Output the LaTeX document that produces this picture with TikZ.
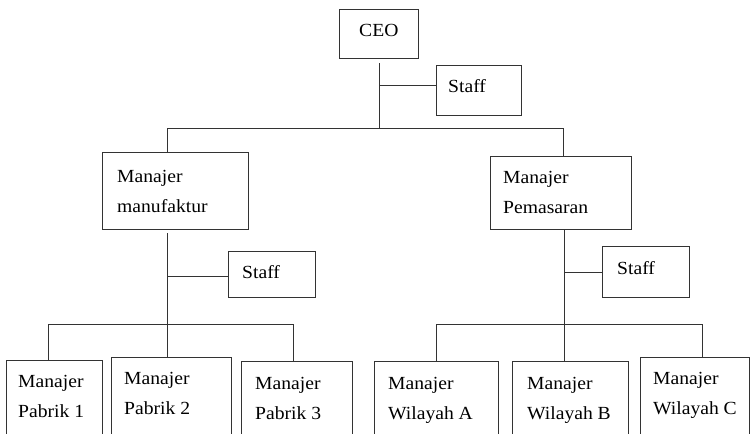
\documentclass[tikz,border=0pt]{standalone}
\usepackage{fontspec}
\setmainfont{Liberation Serif}[FakeStretch=1.06]
\begin{document}
\begin{tikzpicture}[x=1pt,y=-1pt,
  box/.style={draw=black!80,line width=0.9pt,inner sep=0pt,rectangle},
  lbl/.style={anchor=base west,inner sep=0pt,text=black,font=\fontsize{18.5}{30}\selectfont,align=left},
  conn/.style={draw=black!80,line width=0.9pt}]
\useasboundingbox (0,0) rectangle (751,433);
\clip (0,0) rectangle (751,433);
% boxes
\node[box,minimum width=79pt,minimum height=49pt] (ceo) at (379,33.5) {};
\node[box,minimum width=85pt,minimum height=50pt] (st0) at (478.5,90) {};
\node[box,minimum width=146pt,minimum height=77pt] (mm) at (175,190.5) {};
\node[box,minimum width=141pt,minimum height=73pt] (mp) at (560.5,192.5) {};
\node[box,minimum width=87pt,minimum height=46pt] (st1) at (271.5,274) {};
\node[box,minimum width=87pt,minimum height=51pt] (st2) at (645.5,271.5) {};
\node[box,minimum width=96pt,minimum height=100pt] (p1) at (54,410) {};
\node[box,minimum width=120pt,minimum height=103pt] (p2) at (171,408.5) {};
\node[box,minimum width=111pt,minimum height=99pt] (p3) at (296.5,410.5) {};
\node[box,minimum width=124pt,minimum height=99pt] (wa) at (436,410.5) {};
\node[box,minimum width=116pt,minimum height=99pt] (wb) at (570,410.5) {};
\node[box,minimum width=109pt,minimum height=103pt] (wc) at (694.5,408.5) {};
% labels (multi-line: anchor at last baseline)
\node[lbl] (tceo) at (359,37) {CEO};
\node[lbl] (tst0) at (448,93) {Staff};
\node[lbl] (tmm) at (117,212) {Manajer\\manufaktur};
\node[lbl] (tmp) at (503,213) {Manajer\\Pemasaran};
\node[lbl] (tst1) at (242,278) {Staff};
\node[lbl] (tst2) at (617,274) {Staff};
\node[lbl] (tp1) at (18,417) {Manajer\\Pabrik 1};
\node[lbl] (tp2) at (124,414) {Manajer\\Pabrik 2};
\node[lbl] (tp3) at (255,419) {Manajer\\Pabrik 3};
\node[lbl] (twa) at (388,419) {Manajer\\Wilayah A};
\node[lbl] (twb) at (527,419) {Manajer\\Wilayah B};
\node[lbl] (twc) at (653,414) {Manajer\\Wilayah C};
% junction coordinates
\coordinate (j0) at (379,128);
\coordinate (s0) at (379,85);
\coordinate (a1) at (167,128);
\coordinate (a2) at (563,128);
\coordinate (b1) at (167,324);
\coordinate (sb) at (167,276);
\coordinate (bl) at (48,324);
\coordinate (br) at (293,324);
\coordinate (c1) at (564,324);
\coordinate (sc) at (564,272);
\coordinate (cl) at (436,324);
\coordinate (cr) at (702,324);
% connectors top
\draw[conn,shorten <=5pt] (ceo.south) -- (j0);
\draw[conn] (s0) -- (s0 -| st0.west);
\draw[conn] (a1) -- (a2);
\draw[conn] (a1) -- (a1 |- mm.north);
\draw[conn] (a2) -- (a2 |- mp.north);
% left subtree
\draw[conn,shorten <=4pt] (b1 |- mm.south) -- (b1 |- p2.north);
\draw[conn] (sb) -- (sb -| st1.west);
\draw[conn] (bl) -- (br);
\draw[conn] (bl) -- (bl |- p1.north);
\draw[conn] (br) -- (br |- p3.north);
% right subtree
\draw[conn] (c1 |- mp.south) -- (c1 |- wb.north);
\draw[conn] (sc) -- (sc -| st2.west);
\draw[conn] (cl) -- (cr);
\draw[conn] (cl) -- (cl |- wa.north);
\draw[conn] (cr) -- (cr |- wc.north);
\end{tikzpicture}
\end{document}
